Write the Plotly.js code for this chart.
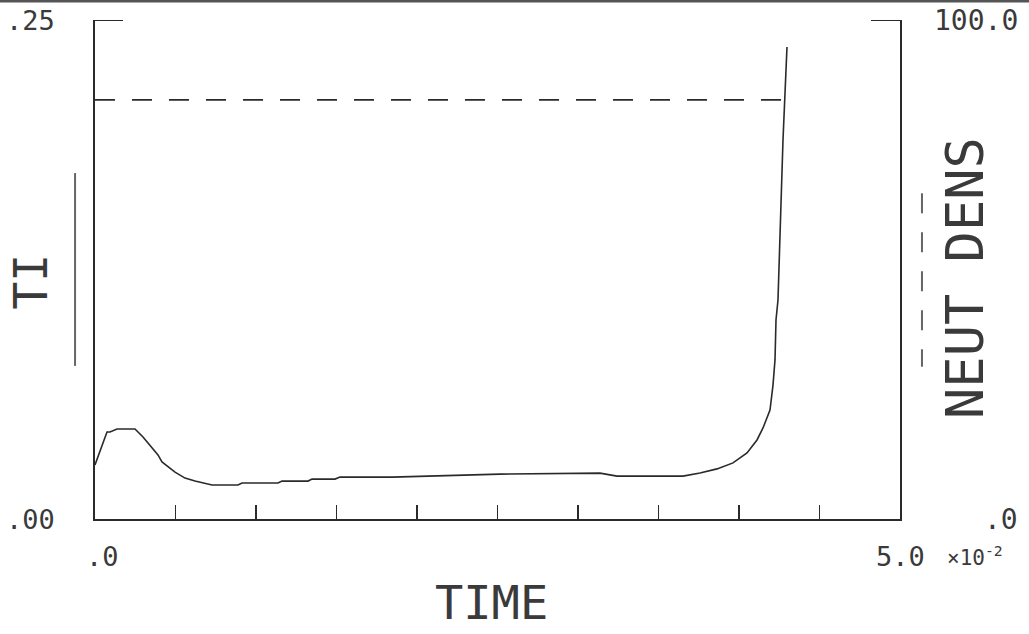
<!DOCTYPE html>
<html>
<head>
<meta charset="utf-8">
<script src="https://cdn.plot.ly/plotly-3.0.1.min.js"></script>
<style>html,body{margin:0;padding:0;background:#fff;}#chart{width:1029px;height:634px;}</style>
</head>
<body>
<div id="chart"></div>
<script>
// TIME in units of 1e-2
const timeTI = [0, 0.0745, 0.0932, 0.1366, 0.2484, 0.2981, 0.3913, 0.4161, 0.4969, 0.5590, 0.6211, 0.7267, 0.8882, 0.9130, 1.1366, 1.1615, 1.3230, 1.3478, 1.4907, 1.5217, 1.8447, 2.2050, 2.5155, 3.1366, 3.2422, 3.6522, 3.7578, 3.8634, 3.9627, 4.0497, 4.1118, 4.1491, 4.1925, 4.2112, 4.2236, 4.2298, 4.2422, 4.2733, 4.2857, 4.2981];
const TI = [0.0271, 0.0436, 0.0436, 0.0451, 0.0451, 0.0411, 0.0321, 0.0286, 0.0235, 0.0205, 0.0190, 0.0170, 0.0170, 0.0180, 0.0180, 0.0190, 0.0190, 0.0200, 0.0200, 0.0210, 0.0210, 0.0220, 0.0225, 0.0230, 0.0215, 0.0215, 0.0230, 0.0251, 0.0281, 0.0331, 0.0396, 0.0456, 0.0546, 0.0671, 0.0797, 0.0997, 0.1097, 0.1899, 0.2099, 0.2365];
const timeND = [0, 4.28];
const neutDens = [84, 84];

const xTickVals = [0.5, 1.0, 1.5, 2.0, 2.5, 3.0, 3.5, 4.0, 4.5];
const xLabelVals = [0, 5];
const xLabelText = ['.0', '5.0'];
const xScaleText = '×10<sup>-2</sup>';
const yLabelVals = [0, 0.25];
const yLabelText = ['.00', '.25'];
const y2LabelVals = [0, 100];
const y2LabelText = ['.0', '100.0'];
const titleX = 'TIME', titleY = 'TI', titleY2 = 'NEUT DENS';

const ink = '#2a2a2a';
const txt = '#3a3a3a';
const FONT = 'DejaVu Sans Mono, monospace';

const traces = [
  {x: timeTI, y: TI, type: 'scatter', mode: 'lines', line: {color: ink, width: 1.6}, yaxis: 'y', hoverinfo: 'skip'},
  {x: timeND, y: neutDens, type: 'scatter', mode: 'lines', line: {color: ink, width: 1.6, dash: '20px,17px'}, yaxis: 'y2', hoverinfo: 'skip'}
];

const annotations = [];
xLabelVals.forEach((v, i) => annotations.push({x: v, xref: 'x', y: -0.076, yref: 'paper', text: xLabelText[i], showarrow: false, xanchor: 'center', yanchor: 'middle', xshift: i === 0 ? 7 : 0, font: {family: FONT, size: 27, color: txt}}));
annotations.push({x: 5, xref: 'x', y: -0.074, yref: 'paper', text: xScaleText, showarrow: false, xanchor: 'left', yanchor: 'middle', xshift: 45, font: {family: FONT, size: 21, color: txt}});
yLabelVals.forEach((v, i) => annotations.push({x: -0.047, xref: 'paper', y: v, yref: 'y', text: yLabelText[i], showarrow: false, xanchor: 'right', yanchor: 'middle', font: {family: FONT, size: 27, color: txt}}));
y2LabelVals.forEach((v, i) => annotations.push({x: 1.149, xref: 'paper', y: v, yref: 'y2', text: y2LabelText[i], showarrow: false, xanchor: 'right', yanchor: 'middle', font: {family: FONT, size: 28, color: txt}}));
annotations.push({x: 0.492, xref: 'paper', y: -0.167, yref: 'paper', text: titleX, showarrow: false, xanchor: 'center', yanchor: 'middle', font: {family: FONT, size: 47, color: txt}});
annotations.push({x: -0.079, xref: 'paper', y: 0.475, yref: 'paper', text: titleY, showarrow: false, textangle: -90, xanchor: 'center', yanchor: 'middle', font: {family: FONT, size: 46, color: txt}});
annotations.push({x: 1.0807, xref: 'paper', y: 0.483, yref: 'paper', text: titleY2, showarrow: false, textangle: -90, xanchor: 'center', yanchor: 'middle', font: {family: FONT, size: 52, color: txt}});

const shapes = [
  // top-left frame segment
  {type: 'line', xref: 'x', yref: 'y', x0: 0, x1: 0.174, y0: 0.25, y1: 0.25, line: {color: ink, width: 2}},
  // top-right frame segment
  {type: 'line', xref: 'x', yref: 'y2', x0: 4.82, x1: 5, y0: 100, y1: 100, line: {color: ink, width: 2}},
  // legend line for TI (solid)
  {type: 'line', xref: 'paper', yref: 'y', x0: -0.0248, x1: -0.0248, y0: 0.0767, y1: 0.1733, line: {color: '#666', width: 2}},
  // legend line for NEUT DENS (dashed)
  {type: 'line', xref: 'paper', yref: 'y2', x0: 1.0273, x1: 1.0273, y0: 65.3, y1: 30.5, line: {color: '#666', width: 2, dash: '20px,19px'}},
  // scan edge at top
  {type: 'line', xref: 'paper', yref: 'paper', x0: -0.12, x1: 1.17, y0: 1.038, y1: 1.038, line: {color: '#555', width: 3}}
];

const layout = {
  width: 1029, height: 634,
  margin: {l: 95, r: 129, t: 20, b: 115, pad: 0},
  paper_bgcolor: '#fff', plot_bgcolor: '#fff',
  showlegend: false,
  xaxis: {range: [0, 5], showline: true, linecolor: ink, linewidth: 2, ticks: 'inside', tickvals: xTickVals, ticklen: 14, tickwidth: 1.5, tickcolor: ink, showticklabels: false, showgrid: false, zeroline: false, fixedrange: true},
  yaxis: {range: [0, 0.25], showline: true, linecolor: ink, linewidth: 2, ticks: '', showticklabels: false, showgrid: false, zeroline: false, fixedrange: true},
  yaxis2: {range: [0, 100], overlaying: 'y', side: 'right', showline: true, linecolor: ink, linewidth: 2, ticks: '', showticklabels: false, showgrid: false, zeroline: false, fixedrange: true},
  annotations: annotations,
  shapes: shapes
};

Plotly.newPlot('chart', traces, layout, {staticPlot: true, displayModeBar: false});
</script>
</body>
</html>
